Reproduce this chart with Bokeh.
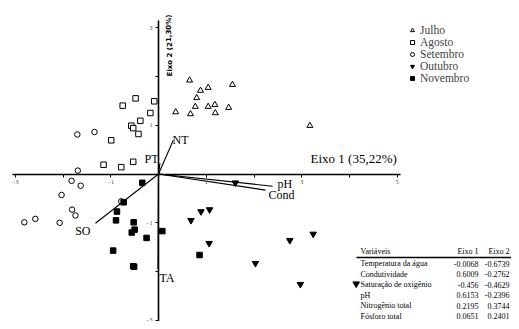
from bokeh.plotting import figure
from bokeh.models import Range1d, FixedTicker, Legend, LegendItem, ColumnDataSource
from bokeh.core.properties import value
from bokeh.embed import file_html
from bokeh.resources import INLINE

# ---------------- data ----------------
julho_x = [0.65, 0.88, 1.04, 1.55, 0.80, 0.77, 1.04, 1.18, 1.47, 0.36, 0.67, 1.19, 3.17]
julho_y = [1.92, 1.71, 1.77, 1.83, 1.56, 1.38, 1.38, 1.42, 1.36, 1.27, 1.23, 1.25, 0.99]

agosto_x = [-0.48, -0.75, -0.09, -0.17, -0.38, -0.57, -0.53, -0.42, -0.99, -1.15, -0.78, -0.53]
agosto_y = [1.55, 1.40, 1.49, 1.25, 1.09, 0.99, 0.94, 0.82, 0.69, 0.19, 0.14, 0.25]

setembro_x = [-1.70, -1.34, -1.69, -1.82, -1.63, -2.03, -1.81, -1.74, -2.81, -2.58, -2.07, -0.78]
setembro_y = [0.81, 0.86, 0.07, -0.14, -0.24, -0.43, -0.73, -0.85, -0.99, -0.92, -1.00, -0.56]

outubro_x = [1.61, 0.89, 1.07, 0.68, 3.24, 2.75, 1.06, 2.03, 2.97, 4.14]
outubro_y = [-0.18, -0.77, -0.73, -0.95, -1.23, -1.36, -1.42, -1.83, -2.26, -2.25]

novembro_x = [-0.34, -0.73, -0.87, -0.89, -0.52, -0.50, -0.56, 0.08, -0.25, -0.95, -0.53, -0.51, 0.86]
novembro_y = [-0.18, -0.58, -0.77, -0.95, -0.99, -1.14, -1.20, -1.17, -1.31, -1.57, -1.89, -1.90, -1.66]

vec_names = ["NT", "PT", "pH", "Cond", "SO", "TA"]
vec_x = [0.31, 0.03, 2.39, 2.24, -1.32, -0.01]
vec_y = [0.69, 0.22, -0.25, -0.33, -1.01, -1.94]

tab_header = ["Variáveis", "Eixo 1", "Eixo 2"]
tab_vars = ["Temperatura da água", "Condutividade", "Saturação de oxigênio",
            "pH", "Nitrogênio total", "Fósforo total"]
tab_e1 = ["-0.0068", "0.6009", "-0.456", "0.6153", "0.2195", "0.0651"]
tab_e2 = ["-0.6739", "-0.2762", "-0.4629", "-0.2396", "0.3744", "0.2401"]

x_major = [-3, -1, 1, 3, 5]
x_minor = [-2, 0, 2, 4]
y_major = [-3, -1, 1, 3]
y_minor = [-2, 0, 2]

# ---------------- layout helpers ----------------
W, H = 511, 321
PX0, SXU = 158.0, 47.75     # screen x of origin, px per unit
PY0, SYU = 173.5, 48.8
X0 = -PX0 / SXU
X1 = X0 + W / SXU
Y1 = PY0 / SYU
Y0 = Y1 - H / SYU

def sx(px):
    return (px - PX0) / SXU

def sy(py):
    return (PY0 - py) / SYU

SERIF = value("Liberation Serif")

p = figure(width=W, height=H, x_range=Range1d(X0, X1), y_range=Range1d(Y0, Y1),
           output_backend="svg", toolbar_location=None, min_border=0,
           background_fill_color="white", border_fill_color="white")
p.outline_line_color = None
p.grid.visible = False

for ax, maj, mnr, bnd in ((p.xaxis, x_major, x_minor, (-3.06, 5.07)),
                          (p.yaxis, y_major, y_minor, (-3.1, 3.15))):
    ax.fixed_location = 0
    ax.bounds = bnd
    ax.ticker = FixedTicker(ticks=maj, minor_ticks=mnr)
    ax.axis_line_width = 1.6
    ax.axis_line_color = "black"
    ax.major_tick_out = 3
    ax.major_tick_in = 0
    ax.minor_tick_out = 3
    ax.minor_tick_in = 0
    ax.major_tick_line_color = "black"
    ax.minor_tick_line_color = "black"
    ax.major_label_text_font = "Liberation Serif"
    ax.major_label_text_font_size = "6px"
    ax.major_label_text_color = "#444444"
    ax.major_label_standoff = 3

# vectors
vsrc = ColumnDataSource(dict(x0=[0] * len(vec_x), y0=[0] * len(vec_y), x1=vec_x, y1=vec_y))
p.segment("x0", "y0", "x1", "y1", source=vsrc, line_color="black", line_width=1.1)

# points
r_jul = p.scatter(julho_x, julho_y, marker="triangle", size=6, fill_color="white",
                  line_color="black", line_width=1)
r_ago = p.scatter(agosto_x, agosto_y, marker="square", size=5.5, fill_color="white",
                  line_color="black", line_width=1)
r_set = p.scatter(setembro_x, setembro_y, marker="circle", size=5.5, fill_color="white",
                  line_color="black", line_width=1)
r_out = p.scatter(outubro_x, outubro_y, marker="inverted_triangle", size=6.5,
                  fill_color="black", line_color="black")
r_nov = p.scatter(novembro_x, novembro_y, marker="square", size=5.5,
                  fill_color="black", line_color="black")

# vector labels
lab_px = [172, 158, 277, 268, 90, 159]
lab_py = [139, 158, 183, 194, 230, 277]
lab_align = ["left", "right", "left", "left", "right", "left"]
p.text([sx(v) for v in lab_px], [sy(v) for v in lab_py], text=vec_names,
       text_font=SERIF, text_font_size="12px", text_align=lab_align,
       text_baseline="middle", text_color="black")

# axis titles
p.text([sx(310)], [sy(158)], text=["Eixo 1 (35,22%)"], text_font=SERIF,
       text_font_size="13px", text_align="left", text_baseline="middle", text_color="black")
p.text([sx(169)], [sy(45)], text=["Eixo 2 (21,30%)"], angle=1.5708,
       text_font=value("DejaVu Sans"), text_font_size="7px", text_font_style="bold",
       text_align="center", text_baseline="middle", text_color="black")

# legend
legend = Legend(items=[LegendItem(label="Julho", renderers=[r_jul]),
                       LegendItem(label="Agosto", renderers=[r_ago]),
                       LegendItem(label="Setembro", renderers=[r_set]),
                       LegendItem(label="Outubro", renderers=[r_out]),
                       LegendItem(label="Novembro", renderers=[r_nov])],
                location=(407, H - 84), orientation="vertical")
legend.label_text_font = "Liberation Serif"
legend.label_text_font_size = "11.5px"
legend.label_height = 10
legend.glyph_height = 10
legend.glyph_width = 10
legend.label_standoff = 3
legend.spacing = -3
legend.padding = 0
legend.margin = 0
legend.border_line_color = None
legend.background_fill_alpha = 0
p.add_layout(legend, "center")

# table
hdr_py = 251
line_py = 257
row_py = [263, 273.5, 284, 294.5, 305, 315.5]
TFS = "8px"
p.text([sx(360)], [sy(hdr_py)], text=[tab_header[0]], text_font=SERIF, text_font_size=TFS,
       text_align="left", text_baseline="middle", text_color="black")
p.text([sx(478), sx(509)], [sy(hdr_py), sy(hdr_py)], text=tab_header[1:], text_font=SERIF,
       text_font_size=TFS, text_align="right", text_baseline="middle", text_color="black")
p.segment([sx(356)], [sy(line_py)], [sx(519)], [sy(line_py)], line_color="black", line_width=1.6)
p.text([sx(360)] * len(tab_vars), [sy(v) for v in row_py], text=tab_vars, text_font=SERIF,
       text_font_size=TFS, text_align="left", text_baseline="middle", text_color="black")
p.text([sx(478)] * len(tab_e1), [sy(v) for v in row_py], text=tab_e1, text_font=SERIF,
       text_font_size=TFS, text_align="right", text_baseline="middle", text_color="black")
p.text([sx(509)] * len(tab_e2), [sy(v) for v in row_py], text=tab_e2, text_font=SERIF,
       text_font_size=TFS, text_align="right", text_baseline="middle", text_color="black")

open("out.html", "w").write(file_html(p, INLINE))
